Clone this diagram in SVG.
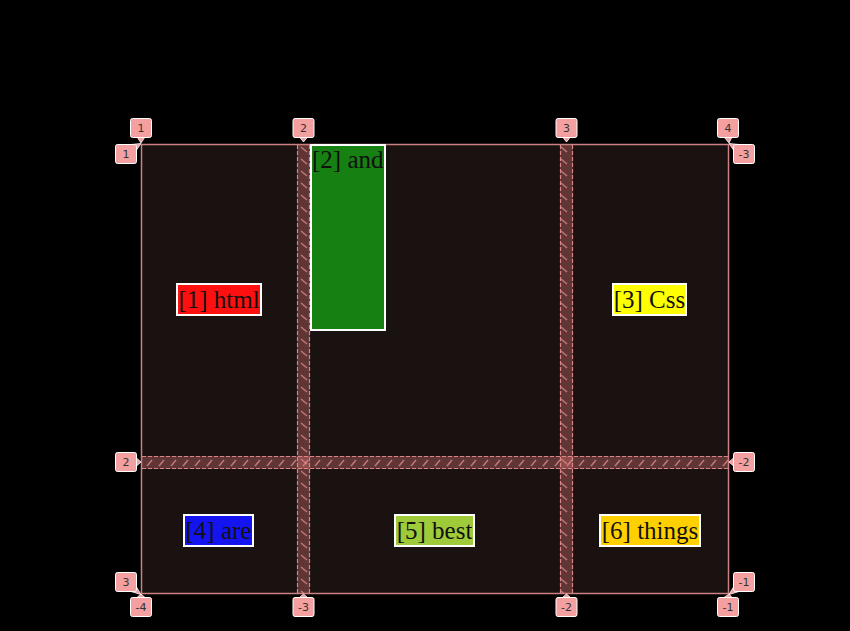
<svg xmlns="http://www.w3.org/2000/svg" width="850" height="631" viewBox="0 0 850 631">
<defs>
<pattern id="hatchRow" width="12" height="13" patternUnits="userSpaceOnUse" x="0" y="456">
<line x1="3" y1="10" x2="8" y2="4" stroke="#e89090" stroke-width="1.5" stroke-opacity="0.7"/>
</pattern>
<pattern id="hatchCol" width="13" height="12" patternUnits="userSpaceOnUse" x="297" y="0">
<line x1="4" y1="3" x2="10" y2="8" stroke="#e89090" stroke-width="1.5" stroke-opacity="0.7"/>
</pattern>
<style>
.gapfill{fill:#f08080;fill-opacity:0.33}
.gapedge{stroke:#e88e8e;stroke-width:1.2;stroke-dasharray:4 2;fill:none;stroke-opacity:0.9}
.item{stroke:#ffffff;stroke-width:2}
.itxt{font-family:"Liberation Serif","Times New Roman",serif;font-size:25px;fill:#111111}
.lbl rect{fill:#f4a0a0;stroke:#ffffff;stroke-width:1}
.lbl polygon{fill:#f4a0a0;stroke:#ffffff;stroke-width:0.8}
.lbl text{font-family:"DejaVu Sans","Liberation Sans",sans-serif;font-size:11px;fill:#333333;text-anchor:middle}
</style>
</defs>
<rect width="850" height="631" fill="#000000"/>
<g id="container">
<rect x="141.5" y="144.5" width="587" height="449" fill="#1a1111" stroke="#cc8282" stroke-width="1.5"/>
</g>
<g id="gaps">
<rect class="gapfill" x="297" y="145" width="13" height="448"/>
<rect x="297" y="145" width="13" height="448" fill="url(#hatchCol)"/>
<rect class="gapfill" x="560" y="145" width="13" height="448"/>
<rect x="560" y="145" width="13" height="448" fill="url(#hatchCol)"/>
<rect class="gapfill" x="142" y="456" width="586" height="13"/>
<rect x="142" y="456" width="586" height="13" fill="url(#hatchRow)"/>
<line class="gapedge" x1="297.5" y1="145" x2="297.5" y2="593"/>
<line class="gapedge" x1="309.5" y1="145" x2="309.5" y2="593"/>
<line class="gapedge" x1="560.5" y1="145" x2="560.5" y2="593"/>
<line class="gapedge" x1="572.5" y1="145" x2="572.5" y2="593"/>
<line class="gapedge" x1="142" y1="456.5" x2="728" y2="456.5"/>
<line class="gapedge" x1="142" y1="468.5" x2="728" y2="468.5"/>
</g>
<g id="item1">
<rect class="item" x="177" y="284" width="84" height="31" fill="#ff1010"/>
<text class="itxt" x="219" y="308" text-anchor="middle">[1] html</text>
</g>
<g id="item2">
<rect class="item" x="311" y="145" width="74" height="185" fill="#178012"/>
<text class="itxt" x="312" y="168">[2] and</text>
</g>
<g id="item3">
<rect class="item" x="613" y="284" width="73" height="31" fill="#ffff00"/>
<text class="itxt" x="649.5" y="308" text-anchor="middle">[3] Css</text>
</g>
<g id="item4">
<rect class="item" x="184" y="515" width="69" height="31" fill="#1414f0"/>
<text class="itxt" x="218.5" y="539" text-anchor="middle">[4] are</text>
</g>
<g id="item5">
<rect class="item" x="395" y="515" width="79" height="31" fill="#9fca3a"/>
<text class="itxt" x="434.5" y="539" text-anchor="middle">[5] best</text>
</g>
<g id="item6">
<rect class="item" x="600" y="515" width="100" height="31" fill="#ffd000"/>
<text class="itxt" x="650" y="539" text-anchor="middle">[6] things</text>
</g>
<g id="labels">
<g class="lbl" id="lt1"><polygon points="137,137 145,137 141,143"/><rect x="130.5" y="118.5" width="21" height="19" rx="2"/><text x="141" y="132">1</text></g>
<g class="lbl" id="lt2"><polygon points="299.5,137 307.5,137 303.5,142"/><rect x="293" y="118.5" width="21" height="19" rx="2"/><text x="303.5" y="132">2</text></g>
<g class="lbl" id="lt3"><polygon points="562.5,137 570.5,137 566.5,142"/><rect x="556" y="118.5" width="21" height="19" rx="2"/><text x="566.5" y="132">3</text></g>
<g class="lbl" id="lt4"><polygon points="724,137 732,137 729,143"/><rect x="717.5" y="118.5" width="21" height="19" rx="2"/><text x="728" y="132">4</text></g>
<g class="lbl" id="lb1"><polygon points="137,597.5 145,597.5 141,594"/><rect x="130.5" y="597.5" width="21" height="19" rx="2"/><text x="141" y="611">-4</text></g>
<g class="lbl" id="lb2"><polygon points="299.5,597.5 307.5,597.5 303.5,594"/><rect x="293" y="597.5" width="21" height="19" rx="2"/><text x="303.5" y="611">-3</text></g>
<g class="lbl" id="lb3"><polygon points="562.5,597.5 570.5,597.5 566.5,594"/><rect x="556" y="597.5" width="21" height="19" rx="2"/><text x="566.5" y="611">-2</text></g>
<g class="lbl" id="lb4"><polygon points="724,597.5 732,597.5 729,594"/><rect x="717.5" y="597.5" width="21" height="19" rx="2"/><text x="728" y="611">-1</text></g>
<g class="lbl" id="ll1"><polygon points="131,144.5 136.5,150 141,143.5"/><rect x="115.5" y="144.5" width="21" height="19" rx="2"/><text x="126" y="158">1</text></g>
<g class="lbl" id="ll2"><polygon points="136.5,458 136.5,466 141,462"/><rect x="115.5" y="452.5" width="21" height="19" rx="2"/><text x="126" y="466">2</text></g>
<g class="lbl" id="ll3"><polygon points="131,591.5 136.5,587 141,594.5"/><rect x="115.5" y="572.5" width="21" height="19" rx="2"/><text x="126" y="586">3</text></g>
<g class="lbl" id="lr1"><polygon points="733.5,150 739,144.5 729,143.5"/><rect x="733.5" y="144.5" width="21" height="19" rx="2"/><text x="744" y="158">-3</text></g>
<g class="lbl" id="lr2"><polygon points="733.5,458 733.5,466 729,462"/><rect x="733.5" y="452.5" width="21" height="19" rx="2"/><text x="744" y="466">-2</text></g>
<g class="lbl" id="lr3"><polygon points="733.5,587 739,591.5 729,594.5"/><rect x="733.5" y="572.5" width="21" height="19" rx="2"/><text x="744" y="586">-1</text></g>
</g>
</svg>
